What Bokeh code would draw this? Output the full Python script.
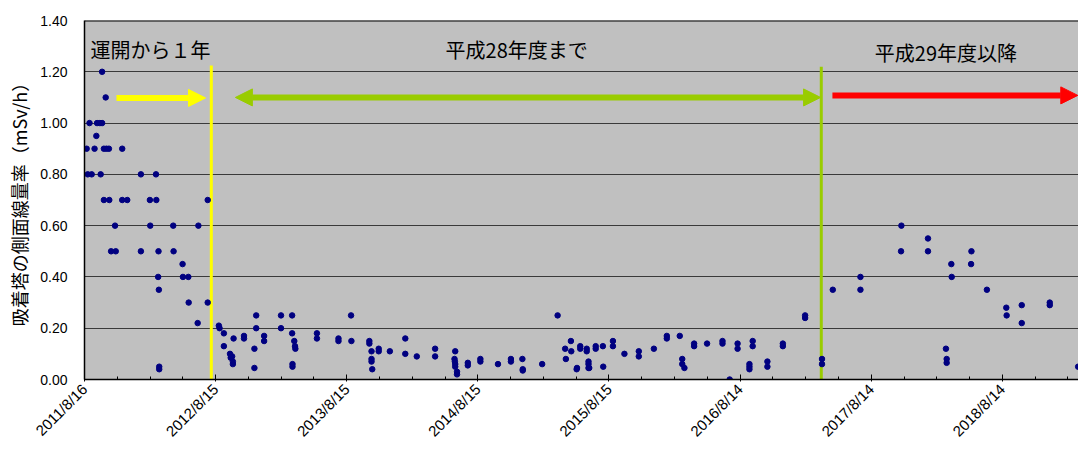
import math
import pandas as pd
from bokeh.plotting import figure
from bokeh.models import Range1d, FixedTicker, Arrow, NormalHead, Span
from bokeh.core.properties import value
from bokeh.embed import file_html
from bokeh.resources import INLINE

# ---------------- data ----------------
start_date = "2011-08-16"

# days since 2011/8/16 and side dose rate (mSv/h)
year1_days = [6, 9, 14, 20, 28, 33, 35, 43, 45, 49, 49, 54, 54, 59, 61, 68, 69, 74, 85, 87,
              105, 105, 119, 157, 157, 182, 183, 199, 200, 205, 206, 207, 208, 208, 247, 248,
              273, 274, 289, 290, 315, 317, 343, 343]
year1_vals = [0.90, 0.80, 1.00, 0.80, 0.90, 0.95, 1.00, 1.00, 0.80, 1.00, 1.20, 0.90, 0.70, 1.10, 0.90, 0.90, 0.70, 0.50, 0.60, 0.50,
              0.90, 0.70, 0.70, 0.80, 0.50, 0.70, 0.60, 0.80, 0.70, 0.40, 0.50, 0.35, 0.05, 0.04, 0.60, 0.50,
              0.45, 0.40, 0.40, 0.30, 0.22, 0.60, 0.70, 0.30]

h28_days = [374, 376, 388, 388, 405, 407, 411, 413, 413, 415, 444, 444, 473, 473, 478, 478, 500, 500,
            547, 547, 578, 578, 579, 579, 584, 586, 587, 647, 647, 707, 707, 742, 743, 793, 793,
            799, 799, 799, 801, 819, 819, 850, 893, 893, 925, 976, 976, 1032, 1030, 1031, 1032, 1032,
            1037, 1037, 1067, 1067, 1102, 1102, 1151, 1187, 1187, 1219, 1220, 1220, 1274, 1317, 1338,
            1340, 1354, 1355, 1370, 1371, 1380, 1380, 1398, 1398, 1403, 1403, 1403, 1405, 1423, 1423,
            1443, 1444, 1471, 1471, 1503, 1543, 1543, 1585, 1621, 1621, 1657, 1664, 1664, 1670, 1697,
            1697, 1733, 1776, 1776, 1796, 1818, 1818, 1851, 1851, 1851, 1860, 1860, 1901, 1901, 1944,
            1944, 2006, 2006, 2053, 2053]
h28_vals = [0.21, 0.20, 0.18, 0.13, 0.10, 0.085, 0.09, 0.07, 0.06, 0.16, 0.17, 0.16, 0.12, 0.045, 0.25, 0.20, 0.17, 0.15,
            0.25, 0.20, 0.25, 0.18, 0.06, 0.05, 0.15, 0.13, 0.12, 0.18, 0.16, 0.16, 0.15, 0.25, 0.15, 0.15, 0.14,
            0.11, 0.08, 0.07, 0.04, 0.12, 0.11, 0.11, 0.16, 0.10, 0.09, 0.12, 0.09, 0.11, 0.08, 0.07, 0.06, 0.05,
            0.03, 0.02, 0.065, 0.055, 0.08, 0.07, 0.06, 0.08, 0.07, 0.08, 0.04, 0.035, 0.06, 0.25, 0.12,
            0.08, 0.15, 0.11, 0.04, 0.045, 0.13, 0.12, 0.12, 0.11, 0.07, 0.06, 0.045, 0.045, 0.13, 0.12,
            0.13, 0.05, 0.15, 0.13, 0.10, 0.11, 0.09, 0.12, 0.17, 0.16, 0.17, 0.08, 0.06, 0.045, 0.14,
            0.13, 0.14, 0.15, 0.14, 0.00, 0.14, 0.12, 0.06, 0.05, 0.04, 0.15, 0.13, 0.07, 0.05, 0.14,
            0.13, 0.25, 0.24, 0.08, 0.06]

h29_days = [2083, 2160, 2160, 2273, 2274, 2348, 2348, 2398, 2400, 2400, 2413, 2414, 2468, 2469,
            2512, 2566, 2567, 2609, 2609, 2687, 2687, 2766]
h29_vals = [0.35, 0.40, 0.35, 0.50, 0.60, 0.55, 0.50, 0.12, 0.08, 0.065, 0.45, 0.40, 0.45, 0.50,
            0.35, 0.28, 0.25, 0.29, 0.22, 0.30, 0.29, 0.05]

tick_labels = ["2011/8/16", "2012/8/15", "2013/8/15", "2014/8/15",
               "2015/8/15", "2016/8/14", "2017/8/14", "2018/8/14"]
y_ticks = [0.0, 0.2, 0.4, 0.6, 0.8, 1.0, 1.2, 1.4]

period_labels = ["運開から１年", "平成28年度まで", "平成29年度以降"]
boundary_dates = ["2012-08-03", "2017-03-28"]   # yellow / green vertical lines
boundary_colors = ["#FFFF00", "#99CC00"]

# ---------------- helpers ----------------
start = pd.Timestamp(start_date)


def d(days):
    return [start + pd.Timedelta(days=x) for x in days]


def ms(ts):
    return ts.value / 1e6


all_days = year1_days + h28_days + h29_days
all_vals = year1_vals + h28_vals + h29_vals

x_end = start + pd.Timedelta(days=2767)

p = figure(width=1078, height=450, x_axis_type="datetime",
           x_range=Range1d(start, x_end), y_range=Range1d(0, 1.4),
           output_backend="svg", toolbar_location=None,
           min_border_left=84, min_border_right=0, min_border_top=20, min_border_bottom=71,
           background_fill_color="#C0C0C0", border_fill_color="white")
p.outline_line_color = None

# grid
p.xgrid.visible = False
p.ygrid.grid_line_color = "#3a3a3a"
p.ygrid.grid_line_width = 1
p.ygrid.ticker = FixedTicker(ticks=y_ticks)

# x axis
tick_ts = [pd.Timestamp(s.replace("/", "-")) for s in tick_labels]
major = [ms(t) for t in tick_ts]
minor = []
k = 0
while True:
    t = start + pd.Timedelta(days=91.25 * k)
    if t > x_end:
        break
    minor.append(ms(t))
    k += 1
p.xaxis.ticker = FixedTicker(ticks=major, minor_ticks=minor)
p.xaxis.major_label_overrides = {m: lab for m, lab in zip(major, tick_labels)}
p.xaxis.major_label_orientation = math.pi / 4
p.xaxis.major_label_text_font = "Liberation Sans"
p.xaxis.major_label_text_font_size = "15px"
p.xaxis.major_label_text_color = "black"
p.xaxis.major_label_standoff = 5
p.xaxis.axis_line_color = "black"
p.xaxis.axis_line_width = 1.5
p.xaxis.major_tick_in = 5
p.xaxis.major_tick_out = 2
p.xaxis.minor_tick_in = 3
p.xaxis.minor_tick_out = 0
p.xaxis.major_tick_line_color = "black"
p.xaxis.minor_tick_line_color = "black"

# y axis
p.yaxis.ticker = FixedTicker(ticks=y_ticks)
p.yaxis.major_label_overrides = {v: f"{v:.2f}" for v in y_ticks}
p.yaxis.major_label_text_font = "Liberation Sans"
p.yaxis.major_label_text_font_size = "14px"
p.yaxis.major_label_text_color = "black"
p.yaxis.major_label_standoff = 17
p.yaxis.axis_line_color = "black"
p.yaxis.axis_line_width = 1.5
p.yaxis.major_tick_in = 0
p.yaxis.major_tick_out = 0
p.yaxis.minor_tick_line_color = None
p.yaxis.axis_label = "吸着塔の側面線量率（mSv/h）"
p.yaxis.axis_label_text_font = "Noto Sans CJK JP"
p.yaxis.axis_label_text_font_size = "18px"
p.yaxis.axis_label_text_font_style = "normal"
p.yaxis.axis_label_text_color = "black"
p.yaxis.axis_label_standoff = 5

# top frame line
p.add_layout(Span(location=1.4, dimension="width", line_color="black", line_width=2))

# boundary lines
bd = [pd.Timestamp(b) for b in boundary_dates]
p.segment(x0=bd, y0=[0, 0], x1=bd, y1=[1.225, 1.22], line_color=boundary_colors, line_width=3)

# arrows
yellow_s, yellow_e = start + pd.Timedelta(days=89), start + pd.Timedelta(days=337)
green_s, green_e = start + pd.Timedelta(days=420), start + pd.Timedelta(days=2049)
red_s, red_e = start + pd.Timedelta(days=2082), start + pd.Timedelta(days=2765)

p.add_layout(Arrow(x_start=ms(yellow_s), y_start=1.098, x_end=ms(yellow_e), y_end=1.098,
                   line_color="#FFFF00", line_width=6,
                   end=NormalHead(size=17, fill_color="#FFFF00", line_color="#FFFF00")))
p.add_layout(Arrow(x_start=ms(green_s), y_start=1.10, x_end=ms(green_e), y_end=1.10,
                   line_color="#99CC00", line_width=6,
                   start=NormalHead(size=17, fill_color="#99CC00", line_color="#99CC00"),
                   end=NormalHead(size=17, fill_color="#99CC00", line_color="#99CC00")))
p.add_layout(Arrow(x_start=ms(red_s), y_start=1.108, x_end=ms(red_e), y_end=1.108,
                   line_color="#FF0000", line_width=6,
                   end=NormalHead(size=17, fill_color="#FF0000", line_color="#FF0000")))

# period labels
p.text(x=[start + pd.Timedelta(days=184), start + pd.Timedelta(days=1203), start + pd.Timedelta(days=2398)],
       y=[1.287, 1.285, 1.275], text=period_labels,
       text_font=value("Noto Sans CJK JP"), text_font_size="20px",
       text_align="center", text_baseline="middle", text_color="black")

# points
p.scatter(x=d(all_days), y=all_vals, size=5.5, fill_color="#000080", line_color="#000080")

open("out.html", "w").write(file_html(p, INLINE))
